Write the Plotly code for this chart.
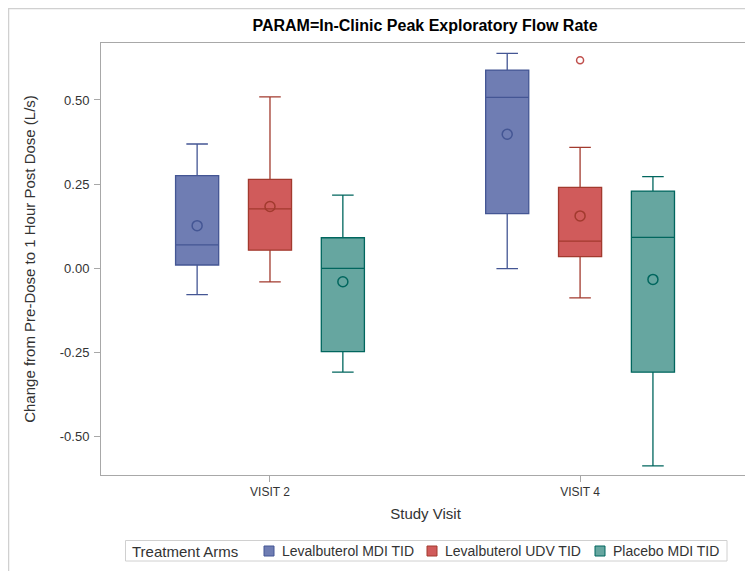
import plotly.graph_objects as go

visits = ["VISIT 2", "VISIT 4"]
arms = ["Levalbuterol MDI TID", "Levalbuterol UDV TID", "Placebo MDI TID"]

# per arm: values for [VISIT 2, VISIT 4]
lower_whisker = {
    "Levalbuterol MDI TID": [-0.079, -0.002],
    "Levalbuterol UDV TID": [-0.041, -0.089],
    "Placebo MDI TID": [-0.310, -0.589],
}
q1_vals = {
    "Levalbuterol MDI TID": [0.009, 0.162],
    "Levalbuterol UDV TID": [0.053, 0.034],
    "Placebo MDI TID": [-0.249, -0.310],
}
median_vals = {
    "Levalbuterol MDI TID": [0.069, 0.508],
    "Levalbuterol UDV TID": [0.176, 0.080],
    "Placebo MDI TID": [-0.001, 0.091],
}
q3_vals = {
    "Levalbuterol MDI TID": [0.275, 0.589],
    "Levalbuterol UDV TID": [0.264, 0.240],
    "Placebo MDI TID": [0.090, 0.229],
}
upper_whisker = {
    "Levalbuterol MDI TID": [0.369, 0.639],
    "Levalbuterol UDV TID": [0.509, 0.359],
    "Placebo MDI TID": [0.217, 0.272],
}
mean_vals = {
    "Levalbuterol MDI TID": [0.126, 0.398],
    "Levalbuterol UDV TID": [0.183, 0.155],
    "Placebo MDI TID": [-0.041, -0.034],
}
outliers = {
    "Levalbuterol UDV TID": ([1], [0.618]),
}
legend_title = "Treatment Arms"

fills = ["#6F7DB3", "#D05B5B", "#66A6A0"]
lines = ["#445694", "#A23A2E", "#01665E"]
offsets = [-0.235, 0.0, 0.235]
box_w = 0.139

fig = go.Figure()
for i, arm in enumerate(arms):
    xs = [k + offsets[i] for k in range(len(visits))]
    fig.add_trace(go.Box(
        name=arm, x=xs,
        q1=q1_vals[arm], median=median_vals[arm], q3=q3_vals[arm],
        lowerfence=lower_whisker[arm], upperfence=upper_whisker[arm],
        width=box_w, whiskerwidth=0.5,
        fillcolor=fills[i], line=dict(color=lines[i], width=1.3),
        boxpoints=False, hoverinfo="skip", showlegend=False,
    ))
    fig.add_trace(go.Scatter(
        x=xs, y=mean_vals[arm], mode="markers", showlegend=False,
        marker=dict(symbol="circle-open", size=10, color=lines[i], line=dict(width=1.5)),
        hoverinfo="skip",
    ))
    if arm in outliers:
        ox, oy = outliers[arm]
        fig.add_trace(go.Scatter(
            x=[k + offsets[i] for k in ox], y=oy, mode="markers", showlegend=False,
            marker=dict(symbol="circle-open", size=7, color="#C0504D", line=dict(width=1.5)),
            hoverinfo="skip",
        ))

# pixel (page) -> paper helpers; plot area spans page x 101..750, y 43..475
def px(x):
    return (x - 101) / 649

def py(y):
    return (475 - y) / 432

# outer figure border (figure sits 8px inside the page)
fig.add_shape(type="rect", xref="paper", yref="paper",
              x0=px(8.5), x1=px(800), y0=py(640), y1=py(8.5),
              line=dict(color="#D0D0D0", width=1.5), fillcolor="rgba(0,0,0,0)", layer="below")

# legend built from the arm names and colours
fig.add_shape(type="rect", xref="paper", yref="paper",
              x0=px(125.5), x1=px(727), y0=py(561), y1=py(540.5),
              line=dict(color="#D0D0D0", width=1), fillcolor="white")
fig.add_annotation(text=legend_title, xref="paper", yref="paper", x=px(130), y=py(551),
                   xanchor="left", yanchor="middle", showarrow=False,
                   font=dict(size=15, color="#333333"))
sq_left = [264, 427, 595]
for i, arm in enumerate(arms):
    fig.add_shape(type="rect", xref="paper", yref="paper",
                  x0=px(sq_left[i]), x1=px(sq_left[i] + 10), y0=py(556), y1=py(546),
                  line=dict(color=lines[i], width=1), fillcolor=fills[i])
    fig.add_annotation(text=arm, xref="paper", yref="paper", x=px(sq_left[i] + 16), y=py(551),
                       xanchor="left", yanchor="middle", showarrow=False,
                       font=dict(size=14, color="#333333"))

font = "Liberation Sans, Arial, sans-serif"
fig.update_layout(
    width=745, height=563,
    margin=dict(l=93, r=3, t=35, b=96, autoexpand=False),
    paper_bgcolor="white", plot_bgcolor="white",
    font=dict(family=font, size=12, color="#333333"),
    title=dict(text="<b>PARAM=In-Clinic Peak Exploratory Flow Rate</b>",
               x=417 / 745, xanchor="center", y=1 - 17 / 563, yanchor="middle",
               font=dict(family=font, size=16, color="#000000")),
    showlegend=False,
    xaxis=dict(range=[-0.545, 1.548], tickvals=[0, 1], ticktext=visits,
               showgrid=False, zeroline=False, showline=True, mirror=True,
               linecolor="#A8A8A8", linewidth=1, ticks="outside", ticklen=6,
               tickcolor="#A8A8A8", tickfont=dict(size=12, color="#333333"),
               title=dict(text="Study Visit", font=dict(size=15, color="#333333"), standoff=10)),
    yaxis=dict(range=[-0.616, 0.6696], tickvals=[-0.5, -0.25, 0, 0.25, 0.5],
               ticktext=["-0.50", "-0.25", "0.00", "0.25", "0.50"],
               showgrid=False, zeroline=False, showline=True, mirror=True,
               linecolor="#A8A8A8", linewidth=1, ticks="outside", ticklen=6,
               tickcolor="#A8A8A8", tickfont=dict(size=13, color="#333333"),
               ticklabelstandoff=2,
               title=dict(text="Change from Pre-Dose to 1 Hour Post Dose (L/s)",
                          font=dict(size=15, color="#333333"), standoff=20)),
)

fig.write_html("out.html")
